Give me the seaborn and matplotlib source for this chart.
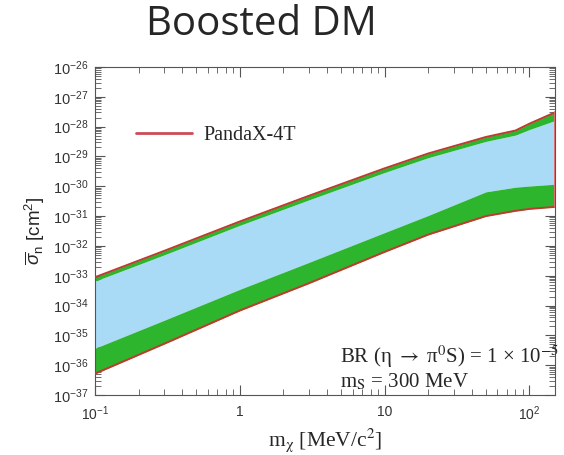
import numpy as np
import pandas as pd
import matplotlib
matplotlib.use("Agg")
import matplotlib.pyplot as plt
import seaborn as sns
from matplotlib.ticker import LogLocator, FixedLocator, FixedFormatter, NullFormatter

# Dark-matter mass grid [MeV/c^2]
mass = [0.1, 0.3, 1.0, 3.0, 10.0, 20.0, 50.0, 80.0, 100.0, 150.0]
# Upper edge of the PandaX-4T excluded region [cm^2]
upper_edge = [8.9e-34, 6.8e-33, 6.6e-32, 4.8e-31, 4.0e-30, 1.26e-29,
              4.5e-29, 7.4e-29, 1.26e-28, 3.0e-28]
# Lower edge of the upper green band
upper_green_low = [6.6e-34, 5.0e-33, 4.9e-32, 3.5e-31, 2.9e-30, 9.1e-30,
                   3.2e-29, 5.2e-29, 8.0e-29, 1.6e-28]
# Upper edge of the lower green band (bottom of the blue band)
lower_green_high = [3.7e-36, 3.2e-35, 3.5e-34, 2.8e-33, 2.8e-32, 1.05e-31,
                    6.5e-31, 9.3e-31, 1.02e-30, 1.17e-30]
# Lower edge of the PandaX-4T excluded region
lower_edge = [5.2e-37, 5.2e-36, 6.8e-35, 5.6e-34, 6.3e-33, 2.4e-32,
              1.0e-31, 1.5e-31, 1.74e-31, 2.04e-31]

x_ticks = [0.1, 1, 10, 100]
x_tick_labels = [r"$10^{-1}$", "1", "10", r"$10^{2}$"]
y_ticks = [10.0 ** e for e in range(-37, -25)]
y_tick_labels = [r"$10^{%d}$" % e for e in range(-37, -25)]

df = pd.DataFrame({
    "mass": mass,
    "upper": upper_edge,
    "upper_green": upper_green_low,
    "lower_green": lower_green_high,
    "lower": lower_edge,
})

sns.set_theme(style="ticks")
plt.rcParams["mathtext.fontset"] = "custom"
plt.rcParams["mathtext.rm"] = "Liberation Sans"
plt.rcParams["mathtext.it"] = "Liberation Sans:italic"
plt.rcParams["mathtext.bf"] = "Liberation Sans:bold"
plt.rcParams["font.family"] = ["Liberation Sans", "DejaVu Sans"]

fig = plt.figure(figsize=(5.64, 4.55), dpi=100)
ax = fig.add_axes([95 / 564, 1 - 395 / 455, 460 / 564, 328 / 455])

blue = "#a9dbf6"
green = "#2db52d"
red = "#bd3b2f"

ax.fill_between(df["mass"], df["lower_green"], df["upper_green"], color=blue, lw=0, zorder=1)
ax.fill_between(df["mass"], df["upper_green"], df["upper"], color=green, lw=0, zorder=1)
ax.fill_between(df["mass"], df["lower"], df["lower_green"], color=green, lw=0, zorder=1)

sns.lineplot(data=df, x="mass", y="upper", color=red, lw=1.4, ax=ax, zorder=3,
             label="PandaX-4T")
sns.lineplot(data=df, x="mass", y="lower", color=red, lw=1.4, ax=ax, zorder=3)
# close the contour at the high-mass end
ax.plot([df["mass"].iloc[-1]] * 2, [df["lower"].iloc[-1], df["upper"].iloc[-1]],
        color="#e07070", lw=1.4, zorder=3)

ax.set_xscale("log")
ax.set_yscale("log")
ax.set_xlim(0.1, 150)
ax.set_ylim(1e-37, 1e-26)

ax.xaxis.set_major_locator(FixedLocator(x_ticks))
ax.xaxis.set_major_formatter(FixedFormatter(x_tick_labels))
ax.xaxis.set_minor_locator(LogLocator(base=10, subs=np.arange(2, 10), numticks=20))
ax.xaxis.set_minor_formatter(NullFormatter())
ax.yaxis.set_major_locator(FixedLocator(y_ticks))
ax.yaxis.set_major_formatter(FixedFormatter(y_tick_labels))
ax.yaxis.set_minor_locator(LogLocator(base=10, subs=np.arange(2, 10), numticks=30))
ax.yaxis.set_minor_formatter(NullFormatter())

ax.tick_params(which="both", direction="in", top=True, right=True, color="#555555")
ax.tick_params(which="major", length=7, width=0.8)
ax.tick_params(which="minor", length=4, width=0.6)
ax.tick_params(axis="x", which="major", labelsize=10, pad=7, labelcolor="#333333")
ax.tick_params(axis="y", which="major", labelsize=10.5, pad=5, labelcolor="#333333")
for sp in ax.spines.values():
    sp.set_color("#555555")
    sp.set_linewidth(0.8)

serif = ["Liberation Serif", "DejaVu Serif"]

ax.set_xlabel(r"m$_{\mathrm{χ}}$ [MeV/c$^{\mathrm{2}}$]", fontsize=15.5, family=serif,
              math_fontfamily="stix", labelpad=2)
ax.set_ylabel(r"$\overline{\sigma}_{\rm n}$ [cm$^2$]", fontsize=13.5, labelpad=4)

leg = ax.legend(loc="center left", bbox_to_anchor=(0.089, 0.79), frameon=False,
                borderpad=0, borderaxespad=0, handlelength=2.8, handletextpad=0.55,
                prop={"family": "Liberation Serif", "size": 14.5})
for h in leg.get_lines():
    h.set_color("#cc4b55")
    h.set_linewidth(2.0)

ax.text(0.533, 0.116, r"BR (η $\rightarrow$ π$^{\mathrm{0}}$S) = 1 × 10$^{\mathrm{-5}}$",
        transform=ax.transAxes, fontsize=15, family=serif,
        math_fontfamily="stix", ha="left", va="center", zorder=4)
ax.text(0.533, 0.040, r"m$_{\mathrm{S}}$ = 300 MeV",
        transform=ax.transAxes, fontsize=15, family=serif,
        math_fontfamily="stix", ha="left", va="center", zorder=4)

fig.text(0.463, 0.945, "Boosted DM", fontsize=29, family="Open Sans",
         ha="center", va="center")

fig.savefig("out.png", dpi=100)
